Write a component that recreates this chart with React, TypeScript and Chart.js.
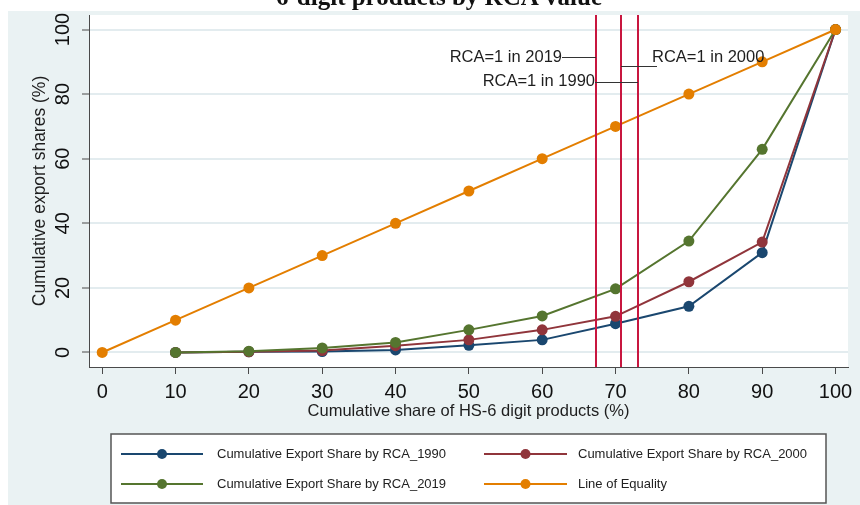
import React, { useEffect, useRef } from 'react';
import { Chart, registerables } from 'chart.js';

Chart.register(...registerables);

// ---------- data ----------
const shareX = [10, 20, 30, 40, 50, 60, 70, 80, 90, 100];
const rca1990 = [0, 0.2, 0.3, 0.8, 2.2, 3.9, 8.9, 14.3, 30.9, 100];
const rca2000 = [0, 0.2, 0.6, 2.1, 3.9, 7.0, 11.2, 21.9, 34.2, 100];
const rca2019 = [0, 0.4, 1.4, 3.1, 7.0, 11.3, 19.7, 34.5, 62.9, 100];
const equalityX = [0, 10, 20, 30, 40, 50, 60, 70, 80, 90, 100];
const equalityY = [0, 10, 20, 30, 40, 50, 60, 70, 80, 90, 100];
const seriesLabels = [
  'Cumulative Export Share by RCA_1990',
  'Cumulative Export Share by RCA_2000',
  'Cumulative Export Share by RCA_2019',
  'Line of Equality',
];
const xTicks = [0, 10, 20, 30, 40, 50, 60, 70, 80, 90, 100];
const yTicks = [0, 20, 40, 60, 80, 100];
const rcaYears = ['2019', '2000', '1990'];
const rcaCutoffs = [67.4, 70.7, 73.0];
const titleText = '6-digit products by RCA value';
const xTitle = 'Cumulative share of HS-6 digit products (%)';
const yTitle = 'Cumulative export shares (%)';

// ---------- styles / layout ----------
const SANS = '"Liberation Sans", Arial, sans-serif';
const colors = ['#1a476f', '#90353b', '#55752f', '#e37e00'];
const drawOrder = [3, 2, 1, 0];
const panelBg = '#eaf2f3';
const gridColor = '#e3ecef';
const axisColor = '#4a4a4a';
const cutoffColor = '#c8163f';

const cutoffLabelLayout: Record<string, any> = {
  '2019': { side: 'left', gap: 34, textY: 91.5, lineY: 91.5 },
  '2000': { side: 'right', gap: 31, lineLen: 36, textY: 91.5, lineY: 88.7 },
  '1990': { side: 'left', gap: 43, textY: 83.8, lineY: 83.8 },
};

const legendLayout = {
  box: { left: 111, top: 434, right: 826, bottom: 503 },
  rows: [454, 484],
  cols: [
    { lineStart: 121, lineEnd: 203, text: 217 },
    { lineStart: 484, lineEnd: 567, text: 578 },
  ],
};

const toPoints = (xs: number[], ys: number[]) => xs.map((x, i) => ({ x, y: ys[i] }));

const backgroundPlugin = {
  id: 'bgPanel',
  beforeDraw(chart: any) {
    const { ctx, width, height, chartArea } = chart;
    ctx.save();
    ctx.fillStyle = '#ffffff';
    ctx.fillRect(0, 0, width, height);
    ctx.fillStyle = panelBg;
    ctx.fillRect(8, 11, width - 8, height - 11);
    ctx.fillStyle = '#ffffff';
    ctx.fillRect(chartArea.left, chartArea.top, chartArea.right - chartArea.left, chartArea.bottom - chartArea.top);
    // cropped title
    ctx.fillStyle = '#111';
    ctx.font = 'bold 25px "Liberation Serif", "Times New Roman", serif';
    ctx.textAlign = 'center';
    ctx.textBaseline = 'alphabetic';
    ctx.fillText(titleText, 439, 5);
    ctx.restore();
  },
};

const cutoffPlugin = {
  id: 'cutoffs',
  afterDatasetsDraw(chart: any) {
    const { ctx, chartArea, scales } = chart;
    const xs = scales.x;
    const ys = scales.y;
    ctx.save();
    rcaCutoffs.forEach((v) => {
      const px = Math.round(xs.getPixelForValue(v));
      ctx.strokeStyle = cutoffColor;
      ctx.lineWidth = 2;
      ctx.beginPath();
      ctx.moveTo(px, chartArea.top);
      ctx.lineTo(px, chartArea.bottom);
      ctx.stroke();
    });
    ctx.font = `16.5px ${SANS}`;
    ctx.textBaseline = 'middle';
    rcaYears.forEach((yr, i) => {
      const lay = cutoffLabelLayout[yr];
      const px = Math.round(xs.getPixelForValue(rcaCutoffs[i]));
      const lineY = Math.round(ys.getPixelForValue(lay.lineY)) + 0.5;
      const textY = ys.getPixelForValue(lay.textY);
      const label = `RCA=1 in ${yr}`;
      ctx.strokeStyle = '#333';
      ctx.lineWidth = 1;
      ctx.fillStyle = '#1e1e1e';
      ctx.beginPath();
      if (lay.side === 'left') {
        ctx.moveTo(px - lay.gap, lineY);
        ctx.lineTo(px, lineY);
        ctx.stroke();
        ctx.textAlign = 'right';
        ctx.fillText(label, px - lay.gap, textY);
      } else {
        ctx.moveTo(px, lineY);
        ctx.lineTo(px + lay.lineLen, lineY);
        ctx.stroke();
        ctx.textAlign = 'left';
        ctx.fillText(label, px + lay.gap, textY);
      }
    });
    ctx.restore();
  },
};

const legendPlugin = {
  id: 'boxLegend',
  afterDraw(chart: any) {
    const { ctx } = chart;
    const { box, rows, cols } = legendLayout;
    ctx.save();
    ctx.fillStyle = '#ffffff';
    ctx.fillRect(box.left, box.top, box.right - box.left, box.bottom - box.top);
    ctx.strokeStyle = '#555';
    ctx.lineWidth = 1.5;
    ctx.strokeRect(box.left, box.top, box.right - box.left, box.bottom - box.top);
    chart.data.datasets.forEach((ds: any, i: number) => {
      const col = cols[i % 2];
      const y = rows[Math.floor(i / 2)];
      ctx.strokeStyle = ds.borderColor;
      ctx.lineWidth = 2;
      ctx.beginPath();
      ctx.moveTo(col.lineStart, y);
      ctx.lineTo(col.lineEnd, y);
      ctx.stroke();
      ctx.fillStyle = ds.borderColor;
      ctx.beginPath();
      ctx.arc((col.lineStart + col.lineEnd) / 2, y, 5, 0, Math.PI * 2);
      ctx.fill();
      ctx.fillStyle = '#222';
      ctx.font = `13px ${SANS}`;
      ctx.textAlign = 'left';
      ctx.textBaseline = 'middle';
      ctx.fillText(ds.label, col.text, y);
    });
    ctx.restore();
  },
};

export default function App() {
  const canvasRef = useRef<HTMLCanvasElement | null>(null);

  useEffect(() => {
    if (!canvasRef.current) return;
    const seriesData = [
      toPoints(shareX, rca1990),
      toPoints(shareX, rca2000),
      toPoints(shareX, rca2019),
      toPoints(equalityX, equalityY),
    ];
    const chart = new Chart(canvasRef.current, {
      type: 'line',
      data: {
        datasets: seriesData.map((d, i) => ({
          label: seriesLabels[i],
          data: d,
          borderColor: colors[i],
          backgroundColor: colors[i],
          pointBackgroundColor: colors[i],
          pointBorderColor: colors[i],
          pointBorderWidth: 0,
          pointRadius: 5.5,
          borderWidth: 2,
          tension: 0,
          fill: false,
          order: drawOrder[i],
        })),
      },
      options: {
        responsive: false,
        animation: false,
        devicePixelRatio: 1,
        layout: { padding: { left: 0, right: 12, top: 15, bottom: 0 } },
        plugins: {
          legend: { display: false },
          tooltip: { enabled: false },
          title: { display: false },
        },
        scales: {
          x: {
            type: 'linear',
            min: -1.8,
            max: 101.7,
            afterBuildTicks: (s: any) => {
              s.ticks = xTicks.map((v) => ({ value: v }));
            },
            afterFit: (s: any) => {
              s.height = 138;
              s.paddingLeft = 0;
              s.paddingRight = 0;
            },
            ticks: {
              autoSkip: false,
              maxRotation: 0,
              minRotation: 0,
              padding: 6,
              color: '#111',
              font: { family: SANS, size: 20 },
            },
            grid: { drawOnChartArea: false, tickLength: 7, tickColor: axisColor, tickWidth: 1 },
            border: { color: axisColor, width: 1 },
            title: {
              display: true,
              text: xTitle,
              color: '#1e1e1e',
              font: { family: SANS, size: 16.5 },
              padding: { top: 0, bottom: 84 },
            },
          },
          y: {
            type: 'linear',
            min: -4.5,
            max: 104.5,
            afterBuildTicks: (s: any) => {
              s.ticks = yTicks.map((v) => ({ value: v }));
            },
            afterFit: (s: any) => {
              s.width = 89;
              s.paddingTop = 0;
              s.paddingBottom = 0;
            },
            ticks: {
              minRotation: 90,
              maxRotation: 90,
              crossAlign: 'center',
              padding: 2,
              color: '#111',
              font: { family: SANS, size: 20 },
            },
            grid: { color: gridColor, lineWidth: 2, tickLength: 7, tickColor: axisColor, tickWidth: 1 },
            border: { color: axisColor, width: 1 },
            title: {
              display: true,
              text: yTitle,
              color: '#1e1e1e',
              font: { family: SANS, size: 17.5 },
              padding: { top: 30, bottom: 0 },
            },
          },
        },
      },
      plugins: [backgroundPlugin, cutoffPlugin, legendPlugin],
    } as any);
    return () => chart.destroy();
  }, []);

  return (
    <div style={{ position: 'fixed', left: 0, top: 0, width: 860, height: 505 }}>
      <canvas ref={canvasRef} width={860} height={505} style={{ display: 'block', width: 860, height: 505 }} />
    </div>
  );
}
